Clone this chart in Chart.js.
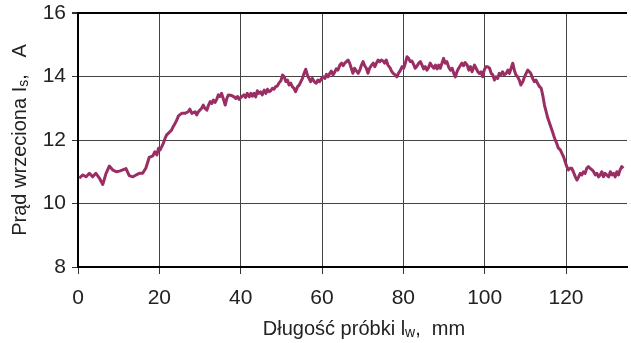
<!DOCTYPE html>
<html lang="pl">
<head>
<meta charset="UTF-8">
<title>Prąd wrzeciona</title>
<script src="https://cdn.jsdelivr.net/npm/chart.js"></script>
<style>
  body { margin: 0; background: #fff; }
</style>
</head>
<body>

<canvas id="currentChart" width="631" height="343"></canvas>

<script>
// sample length, mm
const lengthMm = [
  0.3, 1.2, 2.0, 2.8, 3.6, 4.4, 5.3, 6.1, 6.9, 7.7, 8.5, 9.4, 10.2, 11.0, 11.8, 12.6, 13.5, 14.3, 15.1, 15.9,
  16.7, 17.5, 18.4, 18.9, 19.4, 19.8, 20.2, 20.6, 21.0, 21.4, 21.8, 22.2, 22.6, 23.0, 23.4, 23.9, 24.3, 24.7, 25.5, 26.3,
  27.1, 27.5, 28.0, 28.8, 29.2, 29.6, 30.4, 30.8, 31.2, 31.7, 32.1, 32.5, 32.9, 33.3, 33.7, 34.1, 34.5, 34.9, 35.3, 35.7,
  36.2, 36.6, 37.0, 37.8, 38.4, 38.8, 39.2, 39.6, 40.0, 40.8, 41.2, 41.6, 42.1, 42.5, 42.9, 43.3, 43.7, 44.1, 44.5, 44.9,
  45.3, 45.8, 46.2, 46.6, 47.0, 47.4, 47.8, 48.2, 48.6, 49.0, 49.4, 49.9, 50.3, 50.7, 51.1, 51.5, 51.9, 52.3, 52.7, 53.1,
  53.5, 54.0, 54.4, 54.8, 55.2, 55.6, 56.0, 56.4, 56.8, 57.2, 57.6, 58.2, 58.6, 59.0, 59.4, 59.9, 60.3, 60.7, 61.1, 61.5,
  61.9, 62.3, 62.7, 63.1, 63.5, 63.9, 64.4, 64.8, 65.2, 65.6, 66.0, 66.4, 66.8, 67.2, 67.6, 68.0, 68.5, 68.9, 69.3, 69.7,
  70.1, 70.5, 70.9, 71.3, 71.7, 72.1, 72.6, 73.0, 73.4, 73.8, 74.2, 74.6, 75.0, 75.4, 75.8, 76.2, 76.7, 77.1, 77.5, 78.0,
  78.4, 78.8, 79.3, 79.7, 80.1, 80.5, 80.9, 81.3, 81.7, 82.1, 82.5, 82.9, 83.4, 83.8, 84.2, 84.6, 85.0, 85.4, 85.8, 86.2,
  86.6, 87.0, 87.5, 87.9, 88.3, 88.7, 89.1, 89.5, 89.9, 90.3, 90.7, 91.1, 91.6, 92.0, 92.4, 92.8, 93.2, 93.6, 94.0, 94.4,
  94.8, 95.2, 95.7, 96.1, 96.5, 96.9, 97.5, 97.9, 98.3, 98.7, 99.1, 99.5, 99.9, 100.3, 100.7, 101.2, 101.6, 102.0, 102.4, 102.8,
  103.2, 103.6, 104.0, 104.4, 104.8, 105.3, 105.7, 106.1, 106.5, 106.9, 107.3, 107.7, 108.1, 108.5, 108.9, 109.4, 109.8, 110.2, 110.6, 111.0,
  111.4, 111.8, 112.2, 112.6, 113.0, 113.5, 113.9, 114.3, 114.7, 115.1, 115.5, 115.9, 116.3, 116.7, 117.2, 117.7, 118.1, 118.6, 119.0, 119.4,
  119.8, 120.2, 120.6, 121.0, 121.4, 121.8, 122.3, 122.7, 123.1, 123.5, 123.9, 124.3, 124.7, 125.1, 125.5, 125.9, 126.4, 126.8, 127.2, 127.6,
  128.0, 128.4, 128.8, 129.2, 129.6, 130.0, 130.5, 130.9, 131.3, 131.7, 132.1, 132.5, 132.9, 133.3, 133.7, 134.1
];

// spindle current, A
const spindleCurrent = [
  10.80, 10.90, 10.84, 10.95, 10.84, 10.95, 10.79, 10.60, 10.95, 11.18, 11.06, 11.00, 11.02, 11.06, 11.10, 10.88, 10.84, 10.90, 10.95, 10.95,
  11.12, 11.45, 11.50, 11.63, 11.53, 11.74, 11.69, 11.79, 11.90, 12.05, 12.16, 12.21, 12.26, 12.31, 12.42, 12.53, 12.63, 12.76, 12.84, 12.84,
  12.89, 12.97, 12.84, 12.89, 12.79, 12.89, 13.00, 13.10, 13.00, 12.94, 13.10, 13.21, 13.15, 13.26, 13.18, 13.28, 13.42, 13.37, 13.47, 13.31,
  13.10, 13.31, 13.42, 13.40, 13.36, 13.31, 13.37, 13.28, 13.34, 13.42, 13.34, 13.47, 13.36, 13.47, 13.38, 13.47, 13.36, 13.55, 13.47, 13.52,
  13.42, 13.57, 13.47, 13.60, 13.52, 13.55, 13.63, 13.60, 13.68, 13.70, 13.79, 13.87, 14.05, 13.99, 13.84, 13.89, 13.73, 13.79, 13.68, 13.63,
  13.52, 13.68, 13.73, 13.84, 13.94, 14.10, 14.23, 14.05, 13.94, 13.84, 13.94, 13.82, 13.79, 13.89, 13.84, 13.94, 13.99, 13.94, 14.07, 13.99,
  14.10, 14.17, 14.05, 14.13, 14.24, 14.20, 14.36, 14.42, 14.34, 14.42, 14.47, 14.52, 14.42, 14.26, 14.10, 14.26, 14.17, 14.10, 14.20, 14.36,
  14.47, 14.34, 14.26, 14.10, 14.26, 14.34, 14.42, 14.31, 14.42, 14.52, 14.47, 14.52, 14.49, 14.42, 14.52, 14.36, 14.28, 14.17, 14.10, 14.05,
  13.99, 14.10, 14.20, 14.31, 14.26, 14.42, 14.62, 14.57, 14.47, 14.49, 14.39, 14.26, 14.34, 14.42, 14.47, 14.36, 14.24, 14.31, 14.20, 14.28,
  14.42, 14.34, 14.26, 14.36, 14.24, 14.36, 14.26, 14.42, 14.57, 14.42, 14.47, 14.31, 14.20, 14.26, 14.10, 13.99, 14.15, 14.26, 14.34, 14.42,
  14.34, 14.44, 14.36, 14.20, 14.31, 14.15, 14.36, 14.26, 14.15, 14.10, 14.15, 13.99, 14.20, 14.31, 14.31, 14.26, 14.10, 14.05, 13.89, 13.99,
  13.94, 14.10, 14.05, 14.15, 14.05, 14.10, 14.20, 14.10, 14.26, 14.42, 14.20, 14.05, 13.99, 13.89, 13.73, 13.84, 13.99, 14.10, 14.20, 14.15,
  14.08, 13.94, 13.84, 13.89, 13.79, 13.68, 13.63, 13.40, 13.10, 12.90, 12.70, 12.55, 12.40, 12.25, 12.05, 11.90, 11.75, 11.69, 11.58, 11.47,
  11.31, 11.16, 11.06, 11.11, 11.11, 11.00, 10.84, 10.74, 10.84, 10.95, 10.90, 11.00, 10.95, 11.11, 11.16, 11.11, 11.06, 11.00, 10.90, 10.95,
  10.84, 10.90, 11.00, 10.84, 10.95, 10.90, 10.84, 11.00, 10.90, 10.95, 10.84, 11.00, 10.90, 11.06, 11.16, 11.11
];

const xTicks = [0, 20, 40, 60, 80, 100, 120];
const yTicks = [8, 10, 12, 14, 16];

// titles split into [text, subscript, text]
const xTitle = ['Długość próbki l', 'w', ',  mm'];
const yTitle = ['Prąd wrzeciona I', 's', ',   A'];

const FONT = '"Liberation Sans", Arial, sans-serif';
const GRID = '#444';

const points = lengthMm.map((x, i) => ({ x: x, y: spindleCurrent[i] }));

// draw a title that has a subscript in the middle, centred at (0,0) baseline
function drawSubTitle(ctx, parts) {
    const big = '20px ' + FONT, small = '14px ' + FONT;
    ctx.font = big;
    const w0 = ctx.measureText(parts[0]).width;
    const w2 = ctx.measureText(parts[2]).width;
    ctx.font = small;
    const w1 = ctx.measureText(parts[1]).width;
    let x = -(w0 + w1 + w2) / 2;
    ctx.textAlign = 'left';
    ctx.textBaseline = 'alphabetic';
    ctx.font = big;
    ctx.fillText(parts[0], x, 0);
    x += w0;
    ctx.font = small;
    ctx.fillText(parts[1], x, 2);
    x += w1;
    ctx.font = big;
    ctx.fillText(parts[2], x, 0);
}

const titlePlugin = {
    id: 'subTitles',
    afterDraw(chart) {
        const ctx = chart.ctx;
        ctx.save();
        ctx.fillStyle = '#222';
        ctx.translate(364, 335);
        drawSubTitle(ctx, xTitle);
        ctx.restore();

        ctx.save();
        ctx.fillStyle = '#222';
        ctx.translate(26, 140);
        ctx.rotate(-Math.PI / 2);
        drawSubTitle(ctx, yTitle);
        ctx.restore();
    }
};

const ctx = document.getElementById('currentChart').getContext('2d');

new Chart(ctx, {
    type: 'line',
    data: {
        datasets: [{
            data: points,
            borderColor: '#9a2d63',
            borderWidth: 3,
            pointRadius: 0,
            tension: 0,
            fill: false,
            borderJoinStyle: 'round'
        }]
    },
    options: {
        responsive: false,
        animation: false,
        layout: { padding: { top: 13, right: 4, left: 0, bottom: 0 } },
        plugins: {
            legend: { display: false },
            tooltip: { enabled: false }
        },
        scales: {
            x: {
                type: 'linear',
                min: 0,
                max: 135,
                afterBuildTicks: axis => { axis.ticks = xTicks.map(v => ({ value: v })); },
                afterFit: axis => { axis.height = 76; axis.paddingLeft = 0; axis.paddingRight = 0; },
                ticks: { font: { family: FONT, size: 21 }, color: '#222', padding: 12 },
                grid: { color: GRID, lineWidth: 1, tickLength: 7, tickColor: '#333' },
                border: { color: '#000', width: 2 }
            },
            y: {
                min: 8,
                max: 16,
                afterBuildTicks: axis => { axis.ticks = yTicks.map(v => ({ value: v })); },
                afterFit: axis => { axis.width = 78; axis.paddingTop = 0; axis.paddingBottom = 0; },
                ticks: { font: { family: FONT, size: 21 }, color: '#222', padding: 6 },
                grid: {
                    color: c => c.tick && c.tick.value === 16 ? '#000' : GRID,
                    lineWidth: c => c.tick && c.tick.value === 16 ? 2 : 1,
                    tickLength: 6,
                    tickColor: '#333'
                },
                border: { color: '#000', width: 2 }
            }
        }
    },
    plugins: [titlePlugin]
});
</script>

</body>
</html>
